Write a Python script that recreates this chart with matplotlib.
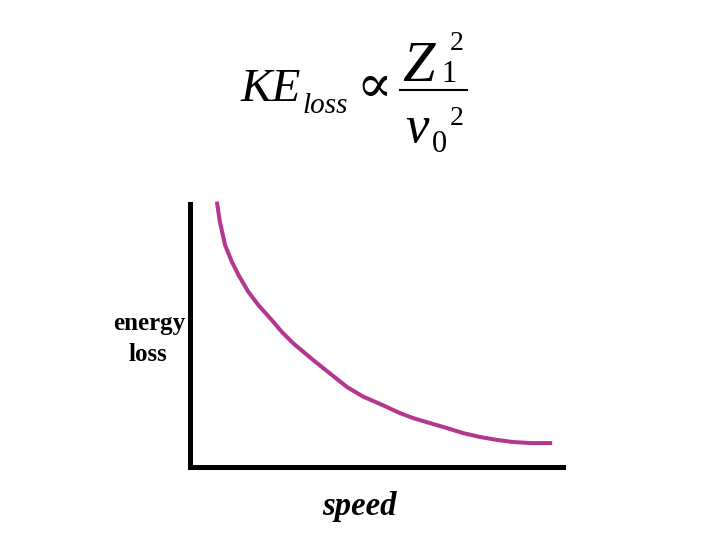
import matplotlib.pyplot as plt
from matplotlib.lines import Line2D

# curve (speed vs energy loss, arbitrary units)
speed = [0.72, 0.80, 0.94, 1.12, 1.30, 1.56, 1.83, 2.19, 2.46, 2.77, 3.30, 3.75,
         4.21, 4.65, 5.09, 5.63, 5.98, 6.43, 6.89, 7.32, 7.78, 8.23, 8.66, 9.12, 9.71]
energy_loss = [10.09, 9.33, 8.44, 7.81, 7.30, 6.67, 6.16, 5.59, 5.14, 4.70, 4.07, 3.56,
               3.04, 2.67, 2.40, 2.05, 1.86, 1.67, 1.48, 1.29, 1.14, 1.03, 0.95, 0.91, 0.91]

x_label = "speed"
y_label = ["energy", "loss"]

W, H = 720, 540


def px(x, y):
    # pixel position -> figure fraction
    return x / W, 1 - y / H


fig = plt.figure(figsize=(7.2, 5.4), dpi=100)
ax = fig.add_axes([190 / W, (H - 467) / H, 373 / W, 263 / H])

ax.plot(speed, energy_loss, color='#B4378F', linewidth=2.9, clip_on=False,
        solid_capstyle='butt', solid_joinstyle='round')
ax.set_xlim(0, 10)
ax.set_ylim(0, 10)

for side in ['top', 'right']:
    ax.spines[side].set_visible(False)
for side in ['left', 'bottom']:
    ax.spines[side].set_linewidth(3.6)
    ax.spines[side].set_color('black')
ax.set_xticks([])
ax.set_yticks([])

serif = 'Liberation Serif'

# axis labels
fig.text(*px(149, 330), y_label[0], ha='center', va='baseline',
         family=serif, fontweight='bold', fontsize=18)
fig.text(*px(148, 361), y_label[1], ha='center', va='baseline',
         family=serif, fontweight='bold', fontsize=18)
fig.text(*px(359, 515), x_label, ha='center', va='baseline',
         family=serif, fontweight='bold', style='italic', fontsize=23.5)

# formula KE_loss ∝ Z1^2 / v0^2, built piece by piece
fig.text(*px(241, 101), "KE", ha='left', va='baseline', family=serif,
         style='italic', fontsize=34)
fig.text(*px(302, 113), "loss", ha='left', va='baseline', family=serif,
         style='italic', fontsize=21)
fig.text(*px(374, 88), "\u221d", ha='center', va='center', family='DejaVu Serif',
         fontsize=38)
fig.text(*px(402, 81), "Z", ha='left', va='baseline', family=serif,
         style='italic', fontsize=42)
fig.text(*px(441, 82), "1", ha='left', va='baseline', family=serif, fontsize=22)
fig.text(*px(450, 50), "2", ha='left', va='baseline', family=serif, fontsize=20)
fig.add_artist(Line2D([400 / W, 467 / W], [1 - 90 / H, 1 - 90 / H],
                      color='black', linewidth=1.5))
fig.text(*px(405, 142), "v", ha='left', va='baseline', family=serif,
         style='italic', fontsize=38)
fig.text(*px(432, 152), "0", ha='left', va='baseline', family=serif, fontsize=22)
fig.text(*px(450, 125), "2", ha='left', va='baseline', family=serif, fontsize=20)

fig.savefig('out.png', dpi=100)
